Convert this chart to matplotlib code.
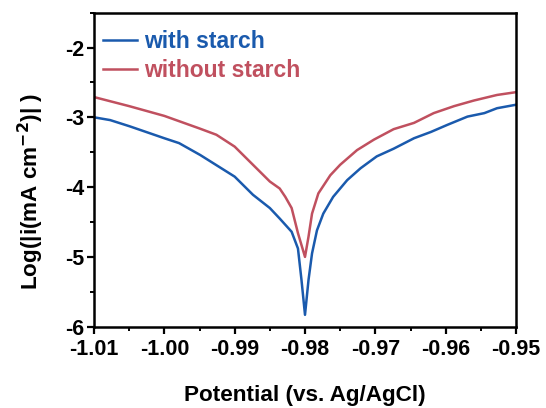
import matplotlib
matplotlib.use("Agg")
import matplotlib.pyplot as plt
from matplotlib.ticker import MultipleLocator

plt.rcParams['font.family'] = ['Liberation Sans', 'DejaVu Sans']
plt.rcParams['font.weight'] = 'bold'
plt.rcParams['mathtext.default'] = 'bf'
plt.rcParams['axes.unicode_minus'] = False

potential_with = [-1.0100, -1.0077, -1.0049, -1.0000, -0.9979, -0.9949, -0.9900, -0.9874, -0.9850,
                  -0.9836, -0.9819, -0.9810, -0.9805, -0.9800, -0.9795, -0.9790, -0.9783, -0.9774,
                  -0.9760, -0.9740, -0.9721, -0.9698, -0.9674, -0.9645, -0.9621, -0.9598, -0.9569,
                  -0.9545, -0.9527, -0.9500]
logi_with = [-3.00, -3.04, -3.13, -3.30, -3.37, -3.54, -3.85, -4.11, -4.30,
             -4.45, -4.64, -4.88, -5.33, -5.83, -5.33, -4.95, -4.62, -4.38,
             -4.14, -3.90, -3.73, -3.56, -3.45, -3.30, -3.21, -3.11, -2.99,
             -2.94, -2.87, -2.82]

potential_without = [-1.0100, -1.0050, -1.0000, -0.9950, -0.9926, -0.9900, -0.9874, -0.9850,
                     -0.9836, -0.9828, -0.9819, -0.9810, -0.9800, -0.9795, -0.9790, -0.9781,
                     -0.9764, -0.9750, -0.9726, -0.9702, -0.9674, -0.9645, -0.9617, -0.9588,
                     -0.9560, -0.9527, -0.9500]
logi_without = [-2.71, -2.84, -2.98, -3.16, -3.25, -3.42, -3.68, -3.92,
                -4.02, -4.14, -4.30, -4.66, -5.00, -4.71, -4.38, -4.09,
                -3.83, -3.68, -3.47, -3.32, -3.17, -3.08, -2.94, -2.84,
                -2.76, -2.68, -2.64]

series_names = ["with starch", "without starch"]
colors = ["#1a5aad", "#c0505f"]

x_ticks = [-1.01, -1.00, -0.99, -0.98, -0.97, -0.96, -0.95]
x_ticklabels = ["-1.01", "-1.00", "-0.99", "-0.98", "-0.97", "-0.96", "-0.95"]
y_ticks = [-6, -5, -4, -3, -2]

W, H = 546, 408
fig = plt.figure(figsize=(W/100, H/100), dpi=100)
left, right, top, bottom = 94, 516, 12.6, 326.7
ax = fig.add_axes([left/W, 1 - bottom/H, (right-left)/W, (bottom-top)/H])

ax.plot(potential_with, logi_with, color=colors[0], lw=1.8, label=series_names[0])
ax.plot(potential_without, logi_without, color=colors[1], lw=1.8, label=series_names[1])

ax.set_xlim(-1.01, -0.95)
ax.set_ylim(-6, -1.5)
ax.set_xticks(x_ticks)
ax.set_xticklabels(x_ticklabels)
ax.set_yticks(y_ticks)
ax.xaxis.set_minor_locator(MultipleLocator(0.005))
ax.yaxis.set_minor_locator(MultipleLocator(0.5))
ax.tick_params(which='major', direction='out', length=5, width=1.6, labelsize=15.5, pad=2)
ax.tick_params(axis='x', which='major', pad=3.5)
ax.tick_params(which='minor', direction='out', length=3, width=1.4)
ax.tick_params(top=False, right=False)
for s in ax.spines.values():
    s.set_linewidth(1.8)

ax.set_xlabel("Potential (vs. Ag/AgCl)", fontsize=16.2, fontweight='bold', labelpad=18)
ax.set_ylabel(r"Log(|i(mA cm$^{-2}$)| )", fontsize=16.2, fontweight='bold')
ax.yaxis.set_label_coords(-0.114, 0.432)

leg = ax.legend(loc='upper left', frameon=False, fontsize=16.5, handlelength=1.48,
                handletextpad=0.3, borderaxespad=0.0, labelspacing=0.3,
                bbox_to_anchor=(0.0, 0.975))
for txt, c in zip(leg.get_texts(), colors):
    txt.set_color(c)
    txt.set_fontweight('bold')

fig.savefig("out.png", dpi=100)
